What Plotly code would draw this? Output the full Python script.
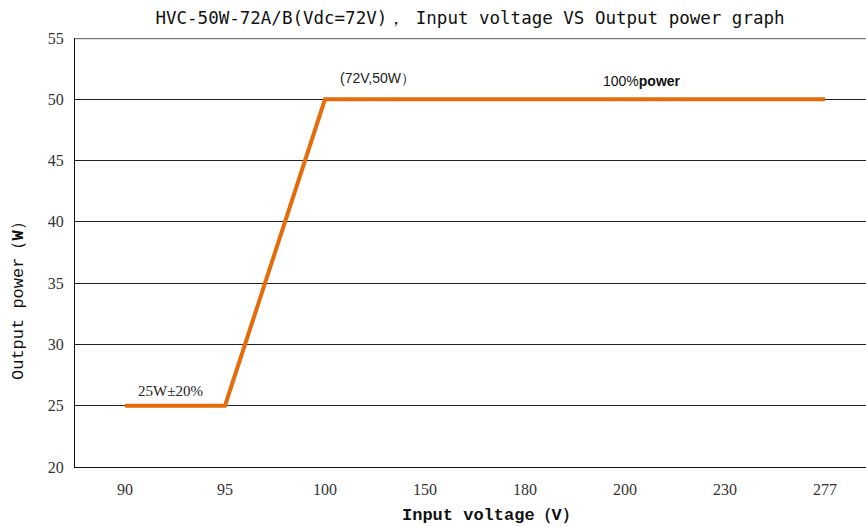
import plotly.graph_objects as go

voltages = ["90", "95", "100", "150", "180", "200", "230", "277"]
power = [25, 25, 50, 50, 50, 50, 50, 50]
y_ticks = [20, 25, 30, 35, 40, 45, 50, 55]

serif = "Liberation Serif, DejaVu Serif, serif"
mono = "Liberation Mono, DejaVu Sans Mono, monospace"
sans = "Liberation Sans, Arial, sans-serif"

W, H = 866, 527
L, R, T, B = 75, 0, 38, 60
pw, ph = W - L - R, H - T - B

def px_x(fx):
    return (fx - L) / pw

def px_y(fy):
    return (H - B - fy) / ph

fig = go.Figure()
fig.add_trace(go.Scatter(
    x=voltages, y=power, mode="lines",
    line=dict(color="#E46C0A", width=4),
    hoverinfo="skip", showlegend=False,
))

# top border line (gray)
fig.add_shape(type="line", xref="paper", yref="y", x0=0, x1=1, y0=55, y1=55,
              line=dict(color="#7a7a7a", width=2.5), layer="below")

fig.add_annotation(x=0.45, y=26.2, xref="x", yref="y", text="25W\u00b120%",
                   showarrow=False, font=dict(family=serif, size=15, color="#222"))
fig.add_annotation(x=2.52, y=51.7, xref="x", yref="y", text="(72V,50W\uff09",
                   showarrow=False, font=dict(family=sans, size=14, color="#222"))
fig.add_annotation(x=5.17, y=51.5, xref="x", yref="y", text="100%<b>power</b>",
                   showarrow=False, font=dict(family=sans, size=14, color="#111"))

# axis titles
fig.add_annotation(x=px_x(490), y=px_y(515), xref="paper", yref="paper",
                   xanchor="center", yanchor="middle",
                   text="<b>Input voltage\uff08V\uff09</b>", showarrow=False,
                   font=dict(family=mono, size=17, color="#111"))
fig.add_annotation(x=px_x(18), y=px_y(297), xref="paper", yref="paper",
                   xanchor="center", yanchor="middle",
                   text="Output power\uff08<b>W</b>\uff09", showarrow=False, textangle=-90,
                   font=dict(family=mono, size=17, color="#111"))

fig.update_layout(
    width=W, height=H,
    margin=dict(l=L, r=R, t=T, b=B, autoexpand=False),
    paper_bgcolor="white", plot_bgcolor="white",
    title=dict(text="HVC-50W-72A/B(Vdc=72V)\uff0c Input voltage VS Output power graph",
               x=470 / W, xanchor="center", y=1 - 18 / H, yanchor="middle",
               font=dict(family="DejaVu Sans Mono, monospace", size=17.5, color="#111")),
    xaxis=dict(type="category", range=[-0.5, 7.41], showgrid=False,
               showline=True, linecolor="#111", linewidth=1,
               ticks="outside", ticklen=8, tickcolor="rgba(0,0,0,0)",
               tickfont=dict(family=serif, size=16, color="#333"), automargin=False),
    yaxis=dict(range=[20, 55], tickvals=y_ticks, showgrid=True, gridcolor="#222",
               gridwidth=1, showline=True, linecolor="#111", linewidth=1,
               ticks="outside", ticklen=7, tickcolor="rgba(0,0,0,0)", zeroline=False,
               tickfont=dict(family=serif, size=16, color="#333"), automargin=False),
)

fig.write_html("out.html", config={"displayModeBar": False, "staticPlot": True},
               post_script="document.body.style.margin='0';document.body.style.overflow='hidden';")
